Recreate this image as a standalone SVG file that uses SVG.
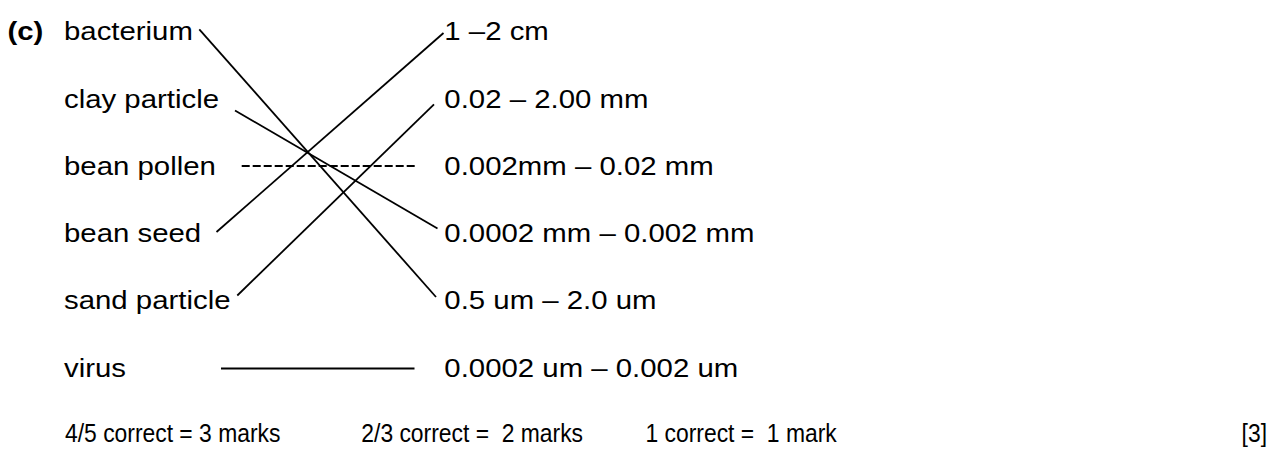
<svg xmlns="http://www.w3.org/2000/svg" width="1279" height="462" viewBox="0 0 1279 462">
<style>
text{font-family:"Liberation Sans",Arial,sans-serif;font-size:26px;fill:#000}
.b{font-weight:bold}
.ln{stroke:#000;stroke-width:1.8;fill:none}
.dash{stroke-width:2;stroke-dasharray:8 3}
</style>
<rect width="1279" height="462" fill="#fff"/>
<g id="labels" transform="scale(1.13 1)">
<text id="part" class="b" x="6.6" y="40.5">(c)</text>
<g id="left-bacterium"><text x="56.6" y="40.5">bacterium</text></g>
<g id="left-clay"><text x="56.6" y="108">clay particle</text></g>
<g id="left-pollen"><text x="56.6" y="175">bean pollen</text></g>
<g id="left-seed"><text x="56.6" y="242.5">bean seed</text></g>
<g id="left-sand"><text x="56.6" y="309.5">sand particle</text></g>
<g id="left-virus"><text x="56.6" y="377">virus</text></g>
<g id="right-1"><text x="393.2" y="40.5">1 –2 cm</text></g>
<g id="right-2"><text x="393.2" y="108">0.02 – 2.00 mm</text></g>
<g id="right-3"><text x="393.2" y="175">0.002mm – 0.02 mm</text></g>
<g id="right-4"><text x="393.2" y="242.5">0.0002 mm – 0.002 mm</text></g>
<g id="right-5"><text x="393.2" y="309.5">0.5 um – 2.0 um</text></g>
<g id="right-6"><text x="393.2" y="377">0.0002 um – 0.002 um</text></g>
</g>
<g id="marks" transform="scale(0.88 1)">
<text x="73.9" y="442.5" xml:space="preserve">4/5 correct = 3 marks</text>
<text x="410.6" y="442.5" xml:space="preserve">2/3 correct =  2 marks</text>
<text x="733.5" y="442.5" xml:space="preserve">1 correct =  1 mark</text>
<text x="1439.8" y="442.5" text-anchor="end">[3]</text>
</g>
<g id="connectors">
<line class="ln" x1="199.3" y1="29.3" x2="436" y2="297"/>
<line class="ln" x1="235" y1="110.5" x2="437.5" y2="228.5"/>
<line class="ln" x1="216.5" y1="232" x2="443.5" y2="33"/>
<line class="ln" x1="237.3" y1="295.5" x2="434" y2="104.3"/>
<line class="ln dash" x1="241.7" y1="166" x2="416.7" y2="166"/>
<line class="ln" x1="221" y1="368.5" x2="414.5" y2="368.5"/>
</g>
</svg>
